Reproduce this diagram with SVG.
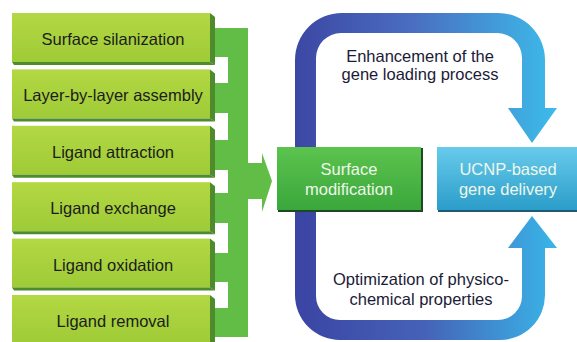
<svg xmlns="http://www.w3.org/2000/svg" width="577" height="342" viewBox="0 0 577 342">
<defs>
<style>
.lt{font-family:"Liberation Sans",Arial,sans-serif;font-size:16.5px;fill:#1c1c1c;text-anchor:middle}
.rt{font-family:"Liberation Sans",Arial,sans-serif;font-size:16.5px;fill:#1b1b38;text-anchor:middle}
.wt{font-family:"Liberation Sans",Arial,sans-serif;font-size:16.5px;fill:#eef7ea;text-anchor:middle}
.body{fill:url(#lime)}
.bev{fill:#4d8b2d}
.conn{fill:#62bd47}
</style>
<linearGradient id="lime" x1="0" y1="0" x2="0" y2="1">
<stop offset="0" stop-color="#b3d843"/>
<stop offset="1" stop-color="#9ecb37"/>
</linearGradient>
<linearGradient id="grn" x1="0" y1="0" x2="0" y2="1">
<stop offset="0" stop-color="#5cc44e"/>
<stop offset="1" stop-color="#3aa73c"/>
</linearGradient>
<linearGradient id="cyan" x1="0" y1="0" x2="0" y2="1">
<stop offset="0" stop-color="#68cbec"/>
<stop offset="1" stop-color="#2b9dc9"/>
</linearGradient>
<linearGradient id="blueTop" gradientUnits="userSpaceOnUse" x1="295" y1="0" x2="557" y2="0">
<stop offset="0" stop-color="#3c47a4"/>
<stop offset="0.45" stop-color="#4a6ec1"/>
<stop offset="1" stop-color="#3cbcea"/>
</linearGradient>
<linearGradient id="blueBot" gradientUnits="userSpaceOnUse" x1="295" y1="0" x2="557" y2="0">
<stop offset="0" stop-color="#3b44a3"/>
<stop offset="0.5" stop-color="#4563b8"/>
<stop offset="1" stop-color="#39b6e8"/>
</linearGradient>
</defs>
<rect width="577" height="342" fill="#ffffff"/>

<g id="connectors">
<rect class="conn" x="212" y="28" width="36" height="29"/>
<rect class="conn" x="212" y="83" width="20" height="30"/>
<rect class="conn" x="212" y="140" width="20" height="30"/>
<rect class="conn" x="212" y="193" width="20" height="30"/>
<rect class="conn" x="212" y="253" width="20" height="29"/>
<rect class="conn" x="212" y="308" width="20" height="29"/>
<rect class="conn" x="228" y="28" width="20" height="309"/>
<rect class="conn" x="247" y="163" width="16" height="36"/>
<polygon class="conn" points="262,153 272,181 262,212"/>
<path id="top-arrow" fill="url(#blueTop)" d="M295,147 V60 A47,47 0 0 1 342,13 H498 A47,47 0 0 1 545,60 V108 H557 L532,143 L508,108 H522 V58 A25,25 0 0 0 497,33 H341 A25,25 0 0 0 316,58 V147 Z"/>
<path id="bottom-arrow" fill="url(#blueBot)" d="M295,211 V295 A45,45 0 0 0 340,340 H500 A45,45 0 0 0 545,295 V248 H557 L532,216 L508,248 H522 V296 A24,24 0 0 1 498,320 H340 A24,24 0 0 1 316,296 V211 Z"/>
</g>

<g id="n1"><rect class="body" x="12" y="13" width="198" height="49"/><polygon class="bev" points="210,13 215,17 215,65 210,62"/><polygon class="bev" points="12,62 210,62 215,65 14,65"/><text class="lt" x="113" y="45">Surface silanization</text></g>
<g id="n2"><rect class="body" x="12" y="69.4" width="198" height="49"/><polygon class="bev" points="210,69.4 215,73.4 215,121.4 210,118.4"/><polygon class="bev" points="12,118.4 210,118.4 215,121.4 14,121.4"/><text class="lt" x="113" y="101.4">Layer-by-layer assembly</text></g>
<g id="n3"><rect class="body" x="12" y="125.8" width="198" height="49"/><polygon class="bev" points="210,125.8 215,129.8 215,177.8 210,174.8"/><polygon class="bev" points="12,174.8 210,174.8 215,177.8 14,177.8"/><text class="lt" x="113" y="157.8">Ligand attraction</text></g>
<g id="n4"><rect class="body" x="12" y="182.2" width="198" height="49"/><polygon class="bev" points="210,182.2 215,186.2 215,234.2 210,231.2"/><polygon class="bev" points="12,231.2 210,231.2 215,234.2 14,234.2"/><text class="lt" x="113" y="214.2">Ligand exchange</text></g>
<g id="n5"><rect class="body" x="12" y="238.6" width="198" height="49"/><polygon class="bev" points="210,238.6 215,242.6 215,290.6 210,287.6"/><polygon class="bev" points="12,287.6 210,287.6 215,290.6 14,290.6"/><text class="lt" x="113" y="270.6">Ligand oxidation</text></g>
<g id="n6"><rect class="body" x="12" y="295" width="198" height="49"/><polygon class="bev" points="210,295 215,299 215,347 210,344"/><text class="lt" x="113" y="327">Ligand removal</text></g>

<g id="surface-mod">
<rect x="278" y="148" width="145" height="64" fill="#1d4a22"/>
<rect x="277" y="147" width="144" height="63" fill="url(#grn)"/>
<text class="wt" x="349" y="175">Surface</text>
<text class="wt" x="349" y="195">modification</text>
</g>

<g id="ucnp">
<rect x="438" y="148" width="145" height="64" fill="#1e5a72"/>
<rect x="437" y="147" width="145" height="63" fill="url(#cyan)"/>
<text class="wt" x="508" y="175">UCNP-based</text>
<text class="wt" x="508" y="195">gene delivery</text>
</g>

<g id="labels">
<text class="rt" x="420" y="62">Enhancement of the</text>
<text class="rt" x="420" y="80">gene loading process</text>
<text class="rt" x="421" y="285">Optimization of physico-</text>
<text class="rt" x="421" y="305">chemical properties</text>
</g>
</svg>
